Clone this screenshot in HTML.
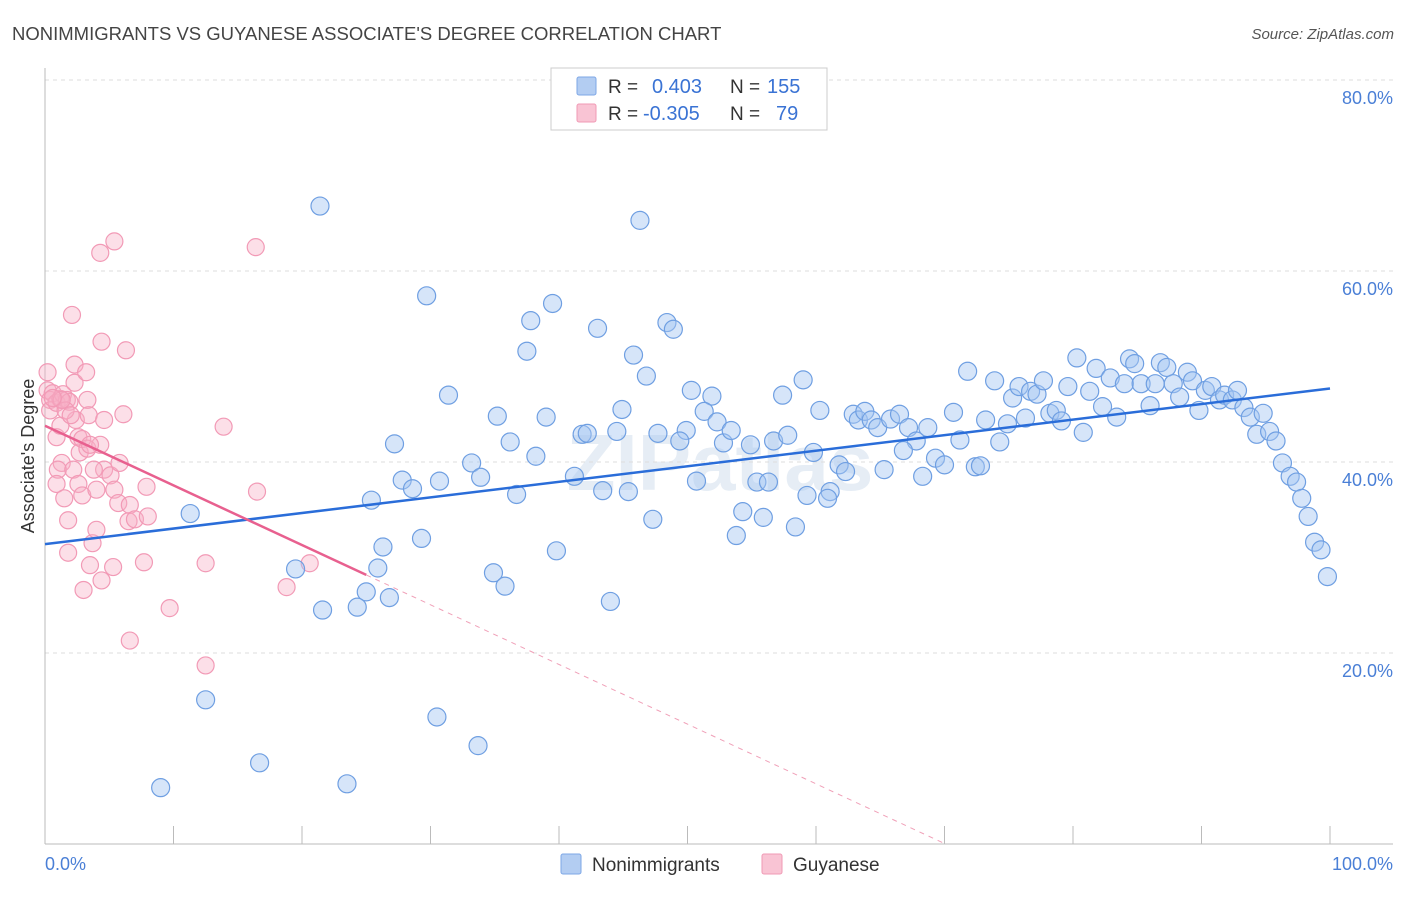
<!DOCTYPE html>
<html><head><meta charset="utf-8"><style>
body{margin:0;background:#fff;font-family:"Liberation Sans",sans-serif;}
svg text{font-family:"Liberation Sans",sans-serif;}
</style></head><body>
<svg id="chart" width="1406" height="892" xmlns="http://www.w3.org/2000/svg">
<text x="12" y="40" font-size="18.5" fill="#444">NONIMMIGRANTS VS GUYANESE ASSOCIATE'S DEGREE CORRELATION CHART</text>
<text x="1394" y="39" font-size="15" fill="#555" font-style="italic" text-anchor="end">Source: ZipAtlas.com</text>
<text x="720" y="490" font-size="80" fill="#e6edf5" text-anchor="middle" font-weight="bold">ZIPatlas</text>
<g id="grid"></g>
<g id="pink"></g>
<g id="blue"></g>
<g id="lines"></g>
<text transform="translate(34,456) rotate(-90)" font-size="18" fill="#333" text-anchor="middle">Associate's Degree</text>
<text x="45" y="870" font-size="18" fill="#4a7fd6">0.0%</text>
<text x="1393" y="870" font-size="18" fill="#4a7fd6" text-anchor="end">100.0%</text>
<g>
<rect x="551" y="68" width="276" height="62" fill="#fff" stroke="#ccc"/>
<rect x="577" y="77" width="19" height="18" fill="#b3cdf2" stroke="#7ea7e6" rx="2"/>
<rect x="577" y="104" width="19" height="18" fill="#f9c4d4" stroke="#f09ab5" rx="2"/>
<text x="608" y="93" font-size="19" fill="#333">R =</text><text x="652" y="93" font-size="20" fill="#3a73d4">0.403</text>
<text x="730" y="93" font-size="19" fill="#333">N =</text><text x="767" y="93" font-size="20" fill="#3a73d4">155</text>
<text x="608" y="120" font-size="19" fill="#333">R =</text><text x="643" y="120" font-size="20" fill="#3a73d4">-0.305</text>
<text x="730" y="120" font-size="19" fill="#333">N =</text><text x="776" y="120" font-size="20" fill="#3a73d4">79</text>
</g>
<g>
<rect x="561" y="854" width="20" height="20" fill="#b3cdf2" stroke="#7ea7e6" rx="2"/>
<text x="592" y="871" font-size="19" fill="#333">Nonimmigrants</text>
<rect x="762" y="854" width="20" height="20" fill="#f9c4d4" stroke="#f09ab5" rx="2"/>
<text x="793" y="871" font-size="19" fill="#333">Guyanese</text>
</g>
</svg>
<script>
const yTicks=[20,40,60,80];
const yTickLabels=["20.0%","40.0%","60.0%","80.0%"];
const blueX=[21.4,46.3,29.7,39.5,37.8,43.0,48.4,48.9,37.5,45.8,46.8,31.4,50.3,51.9,59.0,57.4,35.2,39.0,44.9,51.3,52.3,60.3,27.2,36.2,38.2,41.8,42.2,44.5,47.7,49.9,49.4,52.8,53.4,54.9,56.7,57.8,59.8,27.8,30.7,33.2,33.9,28.6,25.4,36.7,41.2,43.4,45.4,50.7,55.4,56.3,59.3,61.1,60.9,61.8,62.3,54.3,55.9,47.3,53.8,58.4,11.3,26.3,29.3,39.8,19.5,25.9,34.9,35.8,25.0,26.8,44.0,21.6,24.3,12.5,30.5,33.7,16.7,9.0,23.5,62.9,63.3,63.8,64.3,64.8,65.8,66.5,67.2,67.8,66.8,65.3,68.7,69.3,70.0,68.3,70.7,71.2,71.8,72.4,72.8,73.2,73.9,74.3,74.9,75.3,75.8,76.3,76.7,77.2,77.7,78.2,78.7,79.1,79.6,80.3,80.8,81.3,81.8,82.3,82.9,83.4,84.0,84.4,84.8,85.3,86.0,86.4,86.8,87.3,87.8,88.3,88.9,89.3,89.8,90.3,90.8,91.4,91.8,92.4,92.8,93.3,93.8,94.3,94.8,95.3,95.8,96.3,96.9,97.4,97.8,98.3,98.8,99.3,99.8];
const blueY=[66.8,65.3,57.4,56.6,54.8,54.0,54.6,53.9,51.6,51.2,49.0,47.0,47.5,46.9,48.6,47.0,44.8,44.7,45.5,45.3,44.2,45.4,41.9,42.1,40.6,42.9,43.0,43.2,43.0,43.3,42.2,42.0,43.3,41.8,42.2,42.8,41.0,38.1,38.0,39.9,38.4,37.2,36.0,36.6,38.5,37.0,36.9,38.0,37.9,37.9,36.5,36.9,36.2,39.7,39.0,34.8,34.2,34.0,32.3,33.2,34.6,31.1,32.0,30.7,28.8,28.9,28.4,27.0,26.4,25.8,25.4,24.5,24.8,15.1,13.3,10.3,8.5,5.9,6.3,45.0,44.4,45.3,44.4,43.6,44.5,45.0,43.6,42.2,41.2,39.2,43.6,40.4,39.7,38.5,45.2,42.3,49.5,39.5,39.6,44.4,48.5,42.1,44.0,46.7,47.9,44.6,47.4,47.1,48.5,45.1,45.4,44.3,47.9,50.9,43.1,47.4,49.8,45.8,48.8,44.7,48.2,50.8,50.3,48.2,45.9,48.2,50.4,49.9,48.2,46.8,49.4,48.5,45.4,47.5,47.9,46.5,47.0,46.5,47.5,45.7,44.7,42.9,45.1,43.2,42.2,39.9,38.5,37.9,36.2,34.3,31.6,30.8,28.0];
const pinkX=[0.2,0.2,0.4,0.4,0.6,0.9,1.2,1.4,1.7,1.9,2.1,2.3,2.3,3.2,3.3,4.4,4.3,5.4,6.3,0.9,1.2,1.3,1.0,0.9,1.5,1.8,1.8,2.2,2.4,2.6,2.7,2.9,2.6,2.9,3.0,3.4,3.3,3.5,3.7,4.0,4.0,4.3,4.4,4.6,4.6,5.1,5.3,5.4,5.7,5.8,6.1,6.5,6.6,7.0,6.6,7.7,7.9,8.0,9.7,12.5,12.5,13.9,16.5,16.4,18.8,20.6,3.8,1.6,1.3,2.0,0.6,3.5];
const pinkY=[49.4,47.5,46.5,45.4,47.2,46.2,46.6,47.1,46.5,46.3,55.4,50.2,48.3,49.4,46.5,52.6,61.9,63.1,51.7,42.6,43.8,39.9,39.2,37.7,36.2,33.9,30.5,39.2,44.4,42.6,41.0,42.4,37.7,36.5,26.6,44.9,41.4,29.2,31.5,32.9,37.1,41.8,27.6,44.4,39.2,38.6,29.0,37.1,35.7,39.9,45.0,33.8,35.5,34.0,21.3,29.5,37.4,34.3,24.7,29.4,18.7,43.7,36.9,62.5,26.9,29.4,39.2,45.4,46.5,44.9,46.7,41.8];
const blueTrend=[31.4,47.7];
const pinkTrend=[43.8,-0.625];
const pinkSolidEnd=25;
const X0=45,X1=1330,Y0=844,PY=9.55;
const sx=v=>X0+(X1-X0)*v/100;
const sy=v=>Y0-v*PY;
const NS="http://www.w3.org/2000/svg";
function mk(t,a,p){const e=document.createElementNS(NS,t);for(const k in a)e.setAttribute(k,a[k]);p.appendChild(e);return e;}
const grid=document.getElementById('grid');
yTicks.forEach((t,i)=>{
 const l=mk('line',{x1:45,x2:1393,y1:sy(t),y2:sy(t),stroke:'#ddd','stroke-dasharray':'4,4'},grid);
 
 
 const tx=mk('text',{x:1393,y:sy(t)+24,'font-size':18,fill:'#4a7fd6','text-anchor':'end'},grid);
 tx.textContent=yTickLabels[i];
 
 
});
const ax=mk('line',{x1:45,x2:1393,y1:844,y2:844,stroke:'#bbb'},grid);


const ay=mk('line',{x1:45,x2:45,y1:68,y2:844,stroke:'#bbb'},grid);


for(let i=1;i<=10;i++){const t=mk('line',{x1:sx(i*10),x2:sx(i*10),y1:826,y2:844,stroke:'#bbb'},grid);
 
 }
const pg=document.getElementById('pink');
pinkX.forEach((x,i)=>{const c=mk('circle',{cx:sx(x),cy:sy(pinkY[i]),r:8.5,fill:'rgba(247,175,198,0.4)',stroke:'#f29ab6','stroke-width':1.2},pg);
 
 });
const bg=document.getElementById('blue');
blueX.forEach((x,i)=>{const c=mk('circle',{cx:sx(x),cy:sy(blueY[i]),r:9,fill:'rgba(165,198,242,0.45)',stroke:'#6f9fe2','stroke-width':1.2},bg);
 
 });
const lg=document.getElementById('lines');
const bl=mk('line',{x1:sx(0),y1:sy(blueTrend[0]),x2:sx(100),y2:sy(blueTrend[1]),stroke:'#2a6dd9','stroke-width':2.5},lg);


const pf=x=>pinkTrend[0]+pinkTrend[1]*x;
const xz=-pinkTrend[0]/pinkTrend[1];
const pl=mk('line',{x1:sx(0),y1:sy(pf(0)),x2:sx(pinkSolidEnd),y2:sy(pf(pinkSolidEnd)),stroke:'#e8608f','stroke-width':2.5},lg);


const pd=mk('line',{x1:sx(pinkSolidEnd),y1:sy(pf(pinkSolidEnd)),x2:sx(xz),y2:sy(0),stroke:'#f0a0b8','stroke-width':1,'stroke-dasharray':'5,5'},lg);


</script>
</body></html>
